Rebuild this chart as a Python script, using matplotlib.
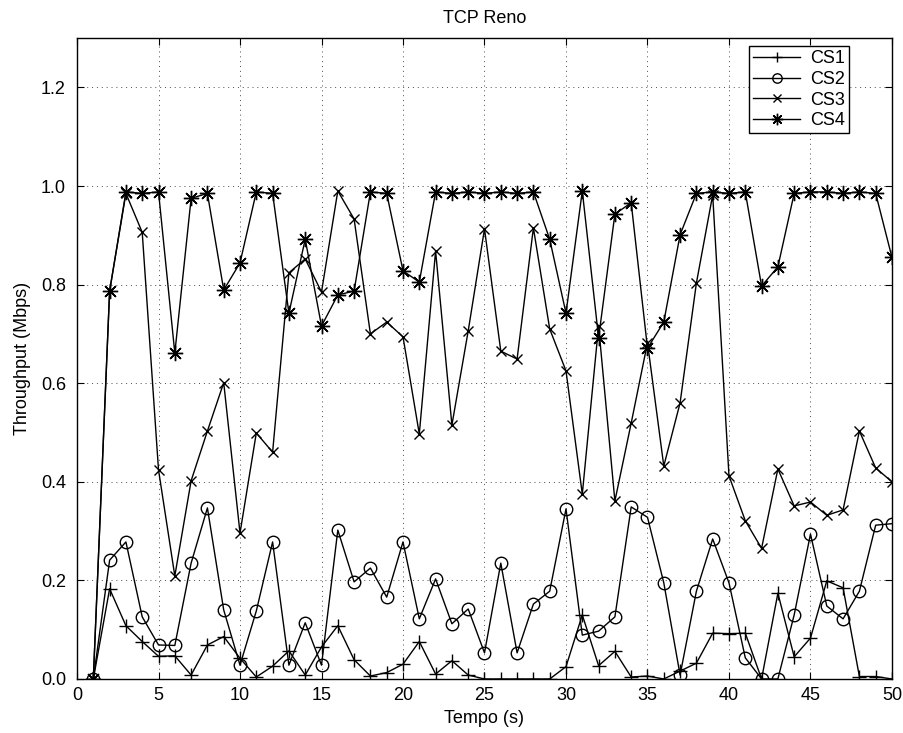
import matplotlib
matplotlib.use("Agg")
import matplotlib.pyplot as plt

plt.rcParams['font.family'] = ['Liberation Sans', 'DejaVu Sans']

# Time axis (seconds)
tempo = list(range(1, 51))

cs1 = [0.000, 0.183, 0.108, 0.076, 0.046, 0.047, 0.008, 0.069, 0.086, 0.042,
       0.004, 0.026, 0.057, 0.008, 0.065, 0.108, 0.039, 0.006, 0.013, 0.030,
       0.076, 0.010, 0.037, 0.008, 0.000, 0.000, 0.000, 0.000, 0.000, 0.025,
       0.130, 0.027, 0.056, 0.004, 0.006, 0.000, 0.016, 0.032, 0.093, 0.092,
       0.093, 0.000, 0.174, 0.045, 0.083, 0.199, 0.185, 0.005, 0.005, 0.000]

cs2 = [0.000, 0.241, 0.278, 0.126, 0.069, 0.068, 0.235, 0.347, 0.140, 0.028,
       0.138, 0.278, 0.028, 0.114, 0.028, 0.302, 0.197, 0.225, 0.166, 0.278,
       0.122, 0.203, 0.112, 0.142, 0.053, 0.235, 0.053, 0.152, 0.178, 0.345,
       0.089, 0.097, 0.126, 0.349, 0.328, 0.195, 0.008, 0.178, 0.284, 0.195,
       0.043, 0.000, 0.000, 0.130, 0.294, 0.148, 0.122, 0.178, 0.312, 0.315]

cs3 = [0.000, 0.787, 0.985, 0.906, 0.424, 0.209, 0.402, 0.503, 0.601, 0.296,
       0.499, 0.460, 0.824, 0.852, 0.785, 0.990, 0.933, 0.700, 0.724, 0.694,
       0.497, 0.868, 0.515, 0.706, 0.913, 0.665, 0.649, 0.915, 0.710, 0.625,
       0.375, 0.716, 0.361, 0.519, 0.682, 0.432, 0.560, 0.803, 0.982, 0.412,
       0.321, 0.265, 0.426, 0.351, 0.359, 0.332, 0.343, 0.503, 0.428, 0.400]

cs4 = [0.000, 0.787, 0.988, 0.985, 0.988, 0.661, 0.975, 0.985, 0.789, 0.844,
       0.988, 0.985, 0.742, 0.892, 0.716, 0.779, 0.787, 0.988, 0.985, 0.828,
       0.805, 0.988, 0.985, 0.988, 0.985, 0.988, 0.985, 0.988, 0.892, 0.742,
       0.990, 0.692, 0.943, 0.966, 0.671, 0.724, 0.901, 0.985, 0.988, 0.985,
       0.988, 0.797, 0.836, 0.985, 0.988, 0.988, 0.985, 0.988, 0.985, 0.855]

series_names = ['CS1', 'CS2', 'CS3', 'CS4']
x_ticks = [0, 5, 10, 15, 20, 25, 30, 35, 40, 45, 50]
y_ticks = [0, 0.2, 0.4, 0.6, 0.8, 1.0, 1.2]
y_tick_labels = ['0.0', '0.2', '0.4', '0.6', '0.8', '1.0', '1.2']

fig = plt.figure(figsize=(9.04, 7.33), dpi=100)
ax = fig.add_axes([0.0852, 0.0737, 0.9015, 0.8743])

styles = [
    dict(marker='+', markersize=10, markeredgewidth=1.0),
    dict(marker='o', markersize=9, markerfacecolor='none', markeredgewidth=1.0),
    dict(marker='x', markersize=7, markeredgewidth=1.0),
    dict(marker=(8, 2, 0), markersize=11, markeredgewidth=1.0),
]
for data, name, st in zip([cs1, cs2, cs3, cs4], series_names, styles):
    ax.plot(tempo, data, color='black', linewidth=1.0, label=name, **st)

ax.set_xlim(0, 50)
ax.set_ylim(0, 1.3)
ax.set_xticks(x_ticks)
ax.set_yticks(y_ticks)
ax.set_yticklabels(y_tick_labels)
ax.tick_params(direction='in', length=5, width=0.8, labelsize=13,
               top=True, right=True, colors='black')
ax.tick_params(axis='x', pad=6)
ax.tick_params(axis='y', pad=8)
ax.grid(True, linestyle=(0, (1, 4)), color='black', linewidth=0.7, alpha=0.7)
for s in ax.spines.values():
    s.set_linewidth(1.0)

ax.set_title('TCP Reno', fontsize=13, pad=11)
ax.set_xlabel('Tempo (s)', fontsize=13, labelpad=4)
ax.set_ylabel('Throughput (Mbps)', fontsize=13, labelpad=7)

leg = ax.legend(loc='upper right', bbox_to_anchor=(0.947, 0.9875),
                borderaxespad=0, fontsize=13, markerscale=0.75,
                fancybox=False, framealpha=1, edgecolor='black',
                handlelength=2.6, borderpad=0.22, labelspacing=0.21,
                handletextpad=0.55)
leg.get_frame().set_linewidth(1.0)

fig.savefig('out.png', dpi=100)
